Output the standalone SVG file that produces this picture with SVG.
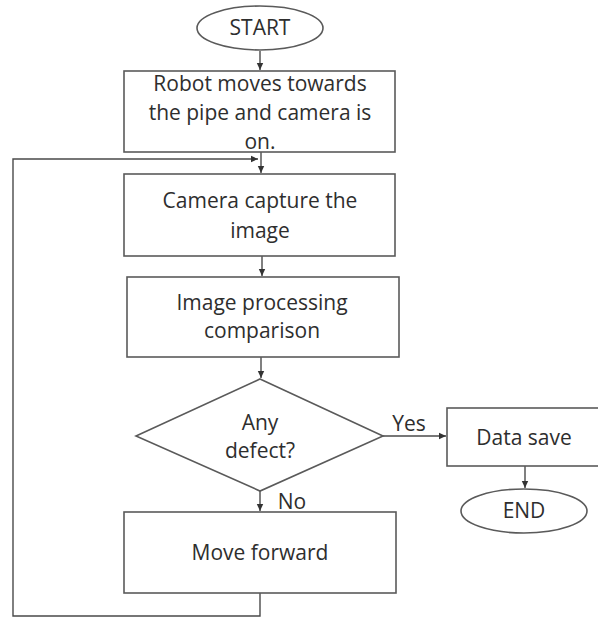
<svg xmlns="http://www.w3.org/2000/svg" width="598" height="618" viewBox="0 0 598 618">
<style>
.shape{fill:#ffffff;stroke:#5a5a5a;stroke-width:1.6}
.line{fill:none;stroke:#4a4a4a;stroke-width:1.4}
.t{font-family:"Open Sans","Liberation Sans",sans-serif;font-size:21px;fill:#2e2e2e;text-anchor:middle;dominant-baseline:central}
</style>
<defs>
<marker id="ah" markerWidth="8" markerHeight="8" refX="7" refY="4" orient="auto" markerUnits="userSpaceOnUse">
<path d="M0,0.8 L7,4 L0,7.2 Z" fill="#333333"/>
</marker>
</defs>
<rect width="598" height="618" fill="#ffffff"/>
<g id="connectors">
<line class="line" x1="260" y1="51" x2="260" y2="70" marker-end="url(#ah)"/>
<line class="line" x1="261" y1="152" x2="261" y2="173" marker-end="url(#ah)"/>
<line class="line" x1="262" y1="256" x2="262" y2="276" marker-end="url(#ah)"/>
<line class="line" x1="261" y1="357" x2="261" y2="378" marker-end="url(#ah)"/>
<line class="line" x1="383" y1="436" x2="446" y2="436" marker-end="url(#ah)"/>
<line class="line" x1="525" y1="466" x2="525" y2="488" marker-end="url(#ah)"/>
<line class="line" x1="260" y1="491" x2="260" y2="511" marker-end="url(#ah)"/>
<polyline class="line" points="260,593 260,616 13,616 13,159 258,159" marker-end="url(#ah)"/>
<text class="t" x="409" y="423">Yes</text>
<text class="t" x="292" y="501">No</text>
</g>
<g id="start">
<ellipse class="shape" cx="260" cy="28" rx="63" ry="22"/>
<text class="t" x="260" y="27">START</text>
</g>
<g id="robot-moves">
<rect class="shape" x="124" y="71" width="271" height="81"/>
<text class="t" x="260" y="83">Robot moves towards</text>
<text class="t" x="260" y="112">the pipe and camera is</text>
<text class="t" x="260" y="141">on.</text>
</g>
<g id="camera-capture">
<rect class="shape" x="124" y="174" width="271" height="82"/>
<text class="t" x="260" y="200">Camera capture the</text>
<text class="t" x="260" y="230">image</text>
</g>
<g id="image-processing">
<rect class="shape" x="127" y="277" width="272" height="80"/>
<text class="t" x="262" y="302">Image processing</text>
<text class="t" x="262" y="330">comparison</text>
</g>
<g id="any-defect">
<polygon class="shape" points="260,379 383,436 260,491 136,436"/>
<text class="t" x="260" y="422">Any</text>
<text class="t" x="260" y="450">defect?</text>
</g>
<g id="data-save">
<rect class="shape" x="447" y="408" width="160" height="58"/>
<text class="t" x="524" y="437">Data save</text>
</g>
<g id="end">
<ellipse class="shape" cx="524" cy="511" rx="63" ry="22"/>
<text class="t" x="524" y="510">END</text>
</g>
<g id="move-forward">
<rect class="shape" x="124" y="512" width="272" height="81"/>
<text class="t" x="260" y="552">Move forward</text>
</g>
</svg>
